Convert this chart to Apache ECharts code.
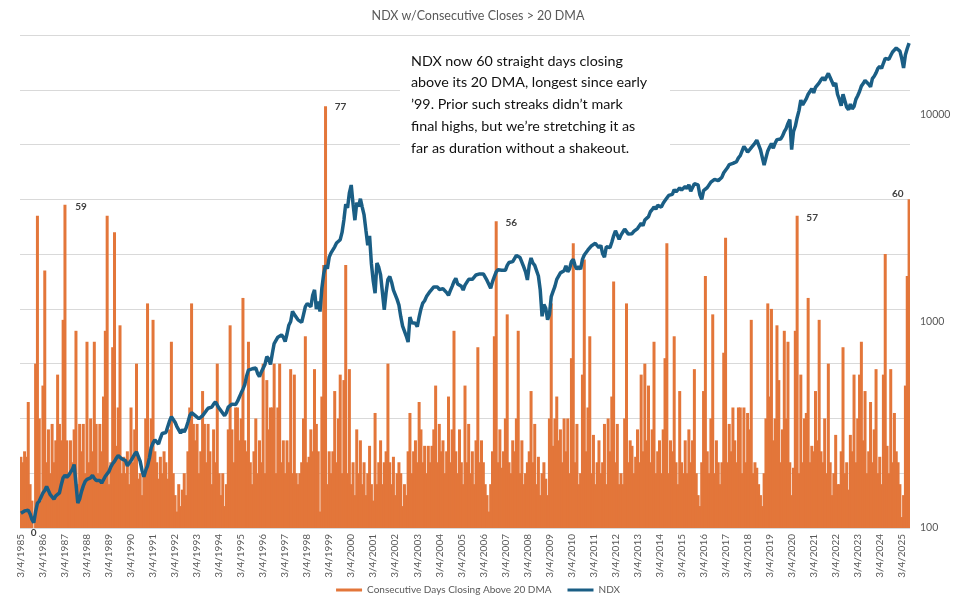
<!DOCTYPE html>
<html>
<head>
<meta charset="utf-8">
<script src="https://cdn.jsdelivr.net/npm/echarts@6/dist/echarts.min.js"></script>
<style>
  html, body { margin: 0; padding: 0; background: #fff; }
  #chart { width: 956px; height: 603px; }
</style>
</head>
<body>
<div id="chart"></div>
<script>
// months from Mar 1985 to Jul 2025
const startYear = 1985, startMonth = 3
const endYear = 2025, endMonth = 7
const months = []
for (let y = startYear; y <= endYear; y++) {
  for (let m = 1; m <= 12; m++) {
    if (y === startYear && m < startMonth) continue
    if (y === endYear && m > endMonth) break
    months.push(y + '-' + (m < 10 ? '0' + m : m))
  }
}

// consecutive days closing above the 20 DMA (monthly max)
const streakDays = [
  13, 12, 14, 13, 23, 8, 5, 0, 30, 57,                 // 1985 (Mar-Dec)
  20, 5, 26, 47, 12, 18, 10, 19, 12, 16, 28, 19,       // 1986
  16, 38, 59, 16, 10, 16, 12, 18, 36, 8, 19, 14,       // 1987
  19, 10, 34, 12, 20, 14, 34, 19, 10, 19, 14, 24,      // 1988
  36, 57, 8, 12, 33, 54, 15, 22, 37, 10, 13, 10,       // 1989
  14, 8, 22, 12, 18, 30, 9, 10, 6, 10, 20, 41,         // 1990
  12, 20, 38, 14, 12, 9, 13, 10, 14, 12, 9, 18,        // 1991
  34, 10, 6, 3, 8, 4, 7, 10, 6, 14, 22, 41,            // 1992
  19, 16, 19, 10, 14, 25, 19, 12, 19, 14, 8, 18,       // 1993
  12, 30, 10, 6, 10, 4, 8, 18, 37, 18, 12, 22,         // 1994
  22, 16, 20, 42, 16, 14, 34, 12, 8, 14, 20, 10,       // 1995
  16, 12, 30, 10, 27, 18, 22, 22, 30, 10, 22, 30,      // 1996
  12, 16, 10, 16, 12, 29, 10, 28, 10, 8, 10, 12,       // 1997
  20, 35, 12, 13, 18, 14, 29, 19, 14, 3, 24, 48,       // 1998
  77, 8, 14, 10, 14, 25, 12, 20, 28, 10, 27, 48,       // 1999
  10, 29, 8, 12, 6, 18, 10, 16, 8, 12, 6, 10,          // 2000
  15, 8, 5, 21, 8, 12, 16, 8, 12, 14, 30, 12,          // 2001
  8, 13, 6, 10, 12, 10, 4, 8, 6, 14, 21, 10,           // 2002
  14, 16, 12, 23, 18, 12, 15, 10, 15, 12, 15, 18,      // 2003
  26, 12, 19, 14, 16, 10, 14, 24, 12, 18, 36, 14,      // 2004
  10, 18, 12, 8, 26, 12, 19, 10, 14, 8, 16, 33,        // 2005
  12, 16, 12, 8, 6, 3, 8, 14, 35, 56, 12, 18,          // 2006
  11, 14, 20, 39, 12, 10, 16, 14, 20, 36, 10, 16,      // 2007
  8, 10, 12, 14, 25, 12, 19, 8, 13, 6, 10, 12,         // 2008
  9, 6, 20, 41, 15, 20, 24, 16, 18, 12, 20, 14,        // 2009
  20, 10, 31, 52, 12, 19, 8, 10, 28, 49, 14, 22,       // 2010
  35, 10, 17, 8, 12, 16, 10, 12, 19, 8, 20, 14,        // 2011
  24, 45, 12, 19, 8, 10, 8, 20, 41, 12, 16, 15,        // 2012
  10, 13, 18, 12, 28, 14, 30, 16, 26, 12, 18, 34,      // 2013
  10, 14, 16, 10, 18, 31, 52, 10, 16, 14, 35, 12,      // 2014
  8, 25, 12, 10, 16, 10, 18, 12, 16, 29, 10, 6,        // 2015
  4, 12, 25, 46, 14, 10, 20, 39, 10, 16, 12, 8,        // 2016
  12, 32, 53, 12, 19, 14, 22, 16, 12, 22, 22, 10,      // 2017
  22, 12, 21, 18, 38, 10, 12, 11, 8, 6, 4, 10,         // 2018
  20, 41, 24, 40, 16, 20, 37, 27, 12, 18, 36, 20,      // 2019
  34, 12, 6, 11, 36, 57, 10, 28, 12, 20, 21, 42,       // 2020
  12, 15, 14, 25, 16, 38, 14, 12, 20, 10, 30, 12,      // 2021
  6, 10, 17, 8, 8, 14, 33, 10, 12, 7, 17, 14,          // 2022
  28, 12, 20, 28, 34, 16, 25, 10, 14, 23, 12, 18,      // 2023
  29, 10, 13, 8, 28, 50, 15, 10, 29, 12, 21, 14,       // 2024
  12, 8, 2, 6, 26, 46, 60                              // 2025 (Jan-Jul)
]

// NDX monthly level (log scale)
const ndx = [
  118, 117, 121, 120, 122, 117, 110, 106, 120, 132,
  135, 138, 148, 152, 159, 156, 145, 147, 138, 143, 146, 148,
  162, 175, 180, 176, 180, 186, 192, 203, 206, 132, 138, 150,
  160, 168, 172, 170, 175, 180, 174, 170, 172, 170, 165, 168,
  178, 182, 188, 198, 205, 210, 218, 224, 226, 216, 214, 212,
  200, 202, 212, 214, 228, 234, 239, 210, 190, 177, 190, 200,
  218, 245, 258, 267, 262, 255, 272, 287, 284, 290, 285, 330,
  346, 342, 325, 310, 305, 288, 300, 292, 305, 325, 350, 362,
  368, 350, 355, 338, 345, 350, 348, 370, 380, 385, 385, 398,
  408, 405, 380, 370, 372, 350, 362, 385, 390, 398, 392, 396,
  410, 430, 450, 470, 495, 545, 582, 580, 590, 582, 595, 560,
  541, 570, 580, 620, 676, 660, 620, 700, 782, 790, 840, 830,
  861, 840, 800, 870, 960, 1000, 1120, 1080, 1100, 1019, 1040, 990,
  1080, 1180, 1220, 1228, 1180, 1340, 1424, 1150, 1250, 1118, 1450, 1700,
  1870, 1800, 2050, 2150, 2134, 2300, 2400, 2450, 2490, 2700, 3100, 3700,
  3550, 4200, 4580, 3700, 3095, 3760, 3600, 3930, 3580, 3280, 2770, 2340,
  2600, 1900, 1570, 1370, 1920, 1830, 1680, 1650, 1140, 1380, 1600, 1650,
  1550, 1420, 1450, 1280, 1200, 1055, 950, 960, 850, 795, 1050, 985,
  1000, 980, 943, 1050, 1150, 1228, 1260, 1320, 1300, 1400, 1420, 1470,
  1490, 1470, 1430, 1400, 1440, 1420, 1380, 1340, 1410, 1480, 1560, 1620,
  1520, 1500, 1480, 1420, 1500, 1500, 1600, 1580, 1600, 1580, 1680, 1675,
  1700, 1680, 1700, 1700, 1580, 1560, 1450, 1560, 1650, 1740, 1780, 1760,
  1770, 1740, 1770, 1870, 1930, 1930, 1950, 1960, 2090, 2130, 2040, 2080,
  1840, 1740, 1590, 1870, 2030, 1920, 1870, 1900, 1660, 1420, 1060, 1210,
  1160, 1020, 1080, 1320, 1400, 1480, 1600, 1630, 1720, 1740, 1760, 1860,
  1740, 1800, 1950, 2000, 1860, 1790, 1850, 1790, 2000, 2100, 2130, 2220,
  2260, 2330, 2320, 2390, 2350, 2280, 2340, 2130, 2050, 2300, 2250, 2280,
  2420, 2600, 2750, 2700, 2500, 2620, 2630, 2800, 2800, 2650, 2670, 2660,
  2730, 2740, 2820, 2880, 2990, 2910, 3100, 3070, 3220, 3400, 3480, 3590,
  3500, 3650, 3600, 3580, 3740, 3850, 3900, 4080, 4050, 4130, 4350, 4240,
  4300, 4440, 4330, 4420, 4510, 4400, 4600, 4270, 4180, 4650, 4670, 4590,
  4100, 3900, 4300, 4340, 4450, 4450, 4730, 4770, 4880, 4800, 4810, 4860,
  5000, 5250, 5400, 5550, 5750, 5650, 5830, 5900, 5950, 6200, 6350, 6400,
  7040, 6850, 6600, 6650, 6950, 7100, 7300, 7560, 7550, 6800, 6700, 5720,
  6200, 6700, 7000, 7280, 6900, 7300, 7600, 7560, 7650, 7900, 8300, 8600,
  9100, 9500, 6800, 8300, 8820, 9700, 10500, 11800, 11200, 11000, 12000, 12600,
  13000, 13400, 12800, 13600, 13400, 14300, 14800, 15200, 14700, 15300, 15900, 15600,
  14500, 13800, 14300, 12600, 11900, 11100, 12600, 12800, 10900, 10600, 11300, 10700,
  11000, 11900, 12400, 13000, 13800, 14200, 14700, 14500, 14100, 13700, 15000, 15400,
  16000, 16800, 17200, 16800, 17800, 18800, 19200, 18600, 19400, 20200, 20600, 21100,
  21000, 20400, 18800, 16900, 19600, 21000, 22300
]

const rightTicks = [100, 1000, 10000]
// months whose bar carries a value label
const labelledMonths = ['1985-10', '1987-03', '1999-01', '2006-10', '2020-06', '2025-07']
const labelOffsets = {
  '1985-10': [0, 15],
  '1987-03': [16, 12],
  '1999-01': [15, 11],
  '2006-10': [15, 12],
  '2020-06': [15, 12],
  '2025-07': [-11, 4]
}

const orange = '#E3763A'
const blue = '#1A5E85'
const grey = '#595959'
const font = 'Lato'

const barData = streakDays.map(function (v, i) {
  const key = months[i]
  if (labelledMonths.indexOf(key) === -1) return v
  return {
    value: v,
    label: {
      show: true,
      position: 'top',
      offset: labelOffsets[key],
      color: '#404040',
      fontSize: 10,
      fontWeight: 'bold',
      fontFamily: font
    }
  }
})

const chart = echarts.init(document.getElementById('chart'), null, { renderer: 'canvas' })

const option = {
  animation: false,
  backgroundColor: '#fff',
  title: {
    text: 'NDX w/Consecutive Closes > 20 DMA',
    left: 'center',
    top: 4,
    textStyle: { color: grey, fontSize: 12.5, fontWeight: 'normal', fontFamily: font }
  },
  legend: {
    bottom: 3,
    left: 'center',
    icon: 'rect',
    itemWidth: 26,
    itemHeight: 3,
    itemGap: 16,
    textStyle: { color: grey, fontSize: 10, fontFamily: font },
    data: ['Consecutive Days Closing Above 20 DMA', 'NDX']
  },
  grid: { left: 20, right: 46, top: 35, bottom: 75 },
  xAxis: {
    type: 'category',
    data: months,
    boundaryGap: true,
    axisLine: { show: false },
    axisTick: { show: false },
    axisLabel: {
      interval: function (index, value) { return value.slice(5) === '03' },
      formatter: function (value) { return '3/4/' + value.slice(0, 4) },
      rotate: 90,
      margin: 6,
      color: grey,
      fontSize: 10,
      fontFamily: font
    }
  },
  yAxis: [
    {
      type: 'value',
      min: 0,
      max: 90,
      interval: 10,
      axisLabel: { show: false },
      axisLine: { show: false },
      axisTick: { show: false },
      splitLine: { lineStyle: { color: '#D9D9D9', width: 1 } }
    },
    {
      type: 'log',
      logBase: 10,
      min: 100,
      max: 24400,
      position: 'right',
      axisLine: { show: false },
      axisTick: { show: false },
      splitLine: { show: false },
      axisLabel: {
        margin: 10,
        color: grey,
        fontSize: 10.5,
        fontFamily: font,
        formatter: function (v) {
          const hit = rightTicks.find(function (t) { return Math.abs(t - v) < 0.5 })
          return hit ? String(hit) : ''
        }
      }
    }
  ],
  series: [
    {
      name: 'Consecutive Days Closing Above 20 DMA',
      type: 'bar',
      yAxisIndex: 0,
      data: barData,
      barWidth: 3,
      itemStyle: { color: orange },
      z: 2
    },
    {
      name: 'NDX',
      type: 'line',
      yAxisIndex: 1,
      data: ndx,
      symbol: 'none',
      lineStyle: { color: blue, width: 3.5 },
      itemStyle: { color: blue },
      z: 3
    }
  ],
  graphic: [
    {
      type: 'rect',
      z: 10,
      shape: { x: 400, y: 40, width: 270, height: 122 },
      style: { fill: '#fff' }
    },
    {
      type: 'text',
      z: 11,
      left: 411,
      top: 50,
      style: {
        text: 'NDX now 60 straight days closing\nabove its 20 DMA, longest since early\n\u201999. Prior such streaks didn\u2019t mark\nfinal highs, but we\u2019re stretching it as\nfar as duration without a shakeout.',
        font: '14.3px Lato',
        lineHeight: 21.8,
        fill: '#111'
      }
    }
  ]
}

chart.setOption(option)
</script>
</body>
</html>
